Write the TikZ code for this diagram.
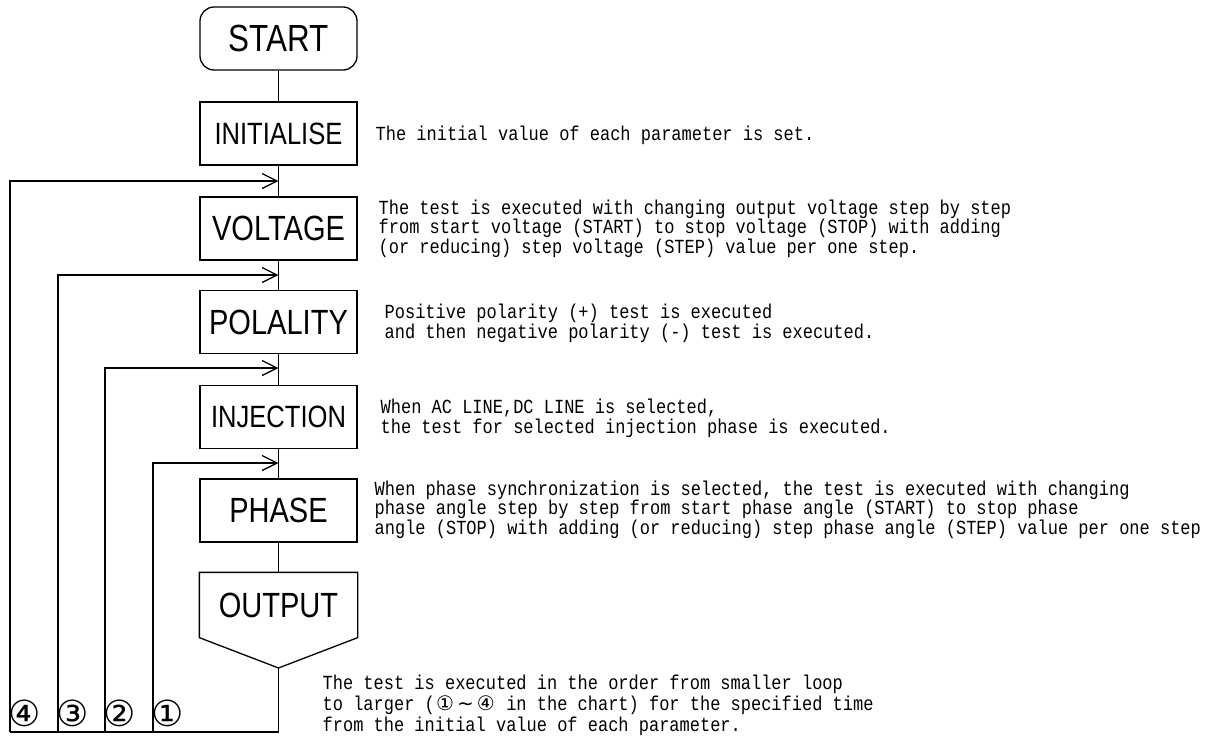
\documentclass[tikz,border=0pt]{standalone}
\usepackage{fontspec}
\usetikzlibrary{arrows.meta,calc}
\newfontfamily\labelfont[FakeStretch=0.83]{Liberation Sans}
\newfontfamily\gothic[FakeStretch=0.85]{Liberation Mono}
\newfontfamily\symfont{DejaVu Sans}
\newcommand{\wchar}[1]{\makebox[10.2pt]{\symfont\fontsize{10}{10}\selectfont #1}}

\begin{document}
\begin{tikzpicture}[x=0.5pt,y=-0.5pt,line width=0.65pt,
  every node/.style={inner sep=0pt},
  box/.style={draw,minimum width=78.5pt,minimum height=31.5pt,font=\labelfont\fontsize{17.5}{17.5}\selectfont},
  small/.style={font=\labelfont\fontsize{15.4}{15.4}\selectfont},
  note/.style={anchor=base west,align=left,font=\gothic\fontsize{10}{9.75}\selectfont},
  back/.style={-{Straight Barb[length=7.5pt,width=7.5pt]}},
  tag/.style={font=\symfont\fontsize{18}{18}\selectfont}]
  \useasboundingbox (0,0) rectangle (1212,739);

  % flow
  \node[box,rounded corners=7pt,font=\labelfont\fontsize{18.9}{18.9}\selectfont] (start) at (278.5,38.5) {START};
  \node[box,small] (init) at (278.5,133.5) {INITIALISE};
  \node[box] (volt) at (278.5,228.5) {VOLTAGE};
  \node[box] (pol) at (278.5,322) {POLALITY};
  \node[box,small] (inj) at (278.5,417) {INJECTION};
  \node[box] (phase) at (278.5,510.5) {PHASE};
  \node[box,draw=none,minimum height=32pt] (out) at (278.5,605) {OUTPUT};
  \coordinate (tip) at (278.5,668);
  \coordinate (bot) at (278.5,732);
  \draw (out.north west) -- (out.north east) -- (out.south east) -- (tip) -- (out.south west) -- cycle;

  \draw (start) -- (init);
  \draw (init) -- (volt);
  \draw (volt) -- (pol);
  \draw (pol) -- (inj);
  \draw (inj) -- (phase);
  \draw (phase) -- (out);

  % loops back
  \foreach \lx/\ly/\n/\c in {10/181/4/④,58/275/3/③,105/368/2/②,153/463/1/①}{
    \coordinate (f\n) at (\lx,732);
    \coordinate (j\n) at (278.5,\ly);
    \draw[back] (f\n) |- (j\n);
    \node[tag] (t\n) at (\lx+15,713) {\c};
  }
  \draw (tip) -- (bot) -- (f4);

  % notes (base = last line)
  \node[note] (initnote) at (375,140) {The initial value of each parameter is set.};
  \node[note] (voltnote) at (378,253) {The test is executed with changing output voltage step by step\\from start voltage (START) to stop voltage (STOP) with adding\\(or reducing) step voltage (STEP) value per one step.};
  \node[note] (polnote) at (384,338) {Positive polarity (+) test is executed\\and then negative polarity (-) test is executed.};
  \node[note] (injnote) at (380,433) {When AC LINE,DC LINE is selected,\\the test for selected injection phase is executed.};
  \node[note] (phasenote) at (374,534) {When phase synchronization is selected, the test is executed with changing\\phase angle step by step from start phase angle (START) to stop phase\\angle (STOP) with adding (or reducing) step phase angle (STEP) value per one step};
  \node[note,font=\gothic\fontsize{10}{9}\selectfont] (outnote) at (322,731) {The test is executed in the order from smaller loop\\to larger (\wchar{①}\wchar{∼}\wchar{④} in the chart) for the specified time\\from the initial value of each parameter.};
\end{tikzpicture}
\end{document}
